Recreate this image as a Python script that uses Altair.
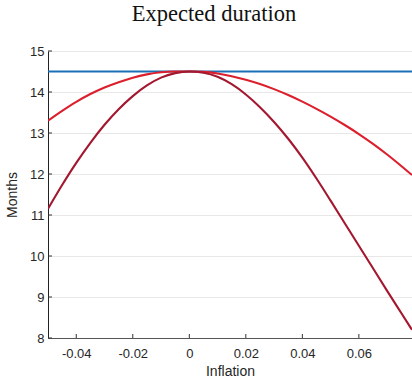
import altair as alt
import pandas as pd

# Inflation grid
x_vals = [-0.05, -0.045, -0.04, -0.035, -0.03, -0.025, -0.02, -0.015, -0.01, -0.005,
          0.0, 0.005, 0.01, 0.015, 0.02, 0.025, 0.03, 0.035, 0.04, 0.045,
          0.05, 0.055, 0.06, 0.065, 0.07, 0.075, 0.0788]
# upper (bright red) curve
upper = [13.30, 13.54, 13.76, 13.95, 14.11, 14.24, 14.35, 14.43, 14.48, 14.50,
         14.50, 14.49, 14.45, 14.385, 14.30, 14.195, 14.07, 13.925, 13.765, 13.59,
         13.40, 13.195, 12.975, 12.735, 12.475, 12.195, 11.975]
# lower (dark red) curve
lower = [11.15, 11.73, 12.27, 12.76, 13.20, 13.58, 13.90, 14.16, 14.35, 14.46,
         14.50, 14.47, 14.37, 14.19, 13.94, 13.63, 13.27, 12.86, 12.40, 11.89,
         11.35, 10.80, 10.25, 9.70, 9.15, 8.61, 8.20]
blue_level = 14.5

x_ticks = [-0.04, -0.02, 0.0, 0.02, 0.04, 0.06]
y_ticks = [8, 9, 10, 11, 12, 13, 14, 15]
x_domain = [-0.05, 0.0788]
y_domain = [8, 15]

W, H = 364, 287

rows = []
for x, u, l in zip(x_vals, upper, lower):
    rows.append({"x": x, "y": u, "s": "upper"})
    rows.append({"x": x, "y": l, "s": "lower"})
df = pd.DataFrame(rows)

xs = alt.Scale(domain=x_domain, nice=False, zero=False)
ys = alt.Scale(domain=y_domain, nice=False, zero=False)

x_axis = alt.Axis(values=x_ticks, title="Inflation", grid=False,
                  labelExpr="datum.value == 0 ? '0' : '' + datum.value",
                  tickSize=0, labelPadding=9, domainColor="#555555",
                  labelFont="Liberation Sans", labelFontSize=13, labelColor="#262626",
                  titleFont="Liberation Sans", titleFontSize=14, titleFontWeight="normal",
                  titleColor="#262626", titlePadding=4)
y_axis = alt.Axis(values=y_ticks, title="Months", grid=True, gridColor="#e8e8e8",
                  gridWidth=1, tickSize=0, labelPadding=4, domainColor="#222222",
                  labelFont="Liberation Sans", labelFontSize=13, labelColor="#262626",
                  titleFont="Liberation Sans", titleFontSize=14, titleFontWeight="normal",
                  titleColor="#262626", titlePadding=10)

lines = alt.Chart(df).mark_line(strokeWidth=2.1, interpolate="monotone", clip=True).encode(
    x=alt.X("x:Q", scale=xs, axis=x_axis),
    y=alt.Y("y:Q", scale=ys, axis=y_axis),
    color=alt.Color("s:N", scale=alt.Scale(domain=["upper", "lower"],
                                           range=["#dc1f2d", "#a3172f"]), legend=None),
    detail="s:N",
)

blue = alt.Chart(pd.DataFrame({"y": [blue_level]})).mark_rule(
    color="#1a6fb5", strokeWidth=2.1).encode(y=alt.Y("y:Q", scale=ys))

xt = alt.Chart(pd.DataFrame({"x": x_ticks})).mark_rule(color="#333333", strokeWidth=1).encode(
    x=alt.X("x:Q", scale=xs), y=alt.value(H), y2=alt.value(H - 4))
yt = alt.Chart(pd.DataFrame({"y": y_ticks})).mark_rule(color="#333333", strokeWidth=1).encode(
    y=alt.Y("y:Q", scale=ys), x=alt.value(0), x2=alt.value(4))

chart = alt.layer(blue, lines, xt, yt).properties(
    width=W, height=H,
    title=alt.TitleParams("Expected duration", font="Liberation Serif", fontSize=22.5,
                          fontWeight="normal", color="#111111", anchor="middle",
                          baseline="alphabetic", offset=2, dx=-16),
    autosize=alt.AutoSizeParams(type="none"),
    padding={"left": 48, "top": 51, "right": 0, "bottom": 41},
).configure_view(stroke=None).configure(background="white")

chart.save("out.html", embed_options={"renderer": "svg", "actions": False})
